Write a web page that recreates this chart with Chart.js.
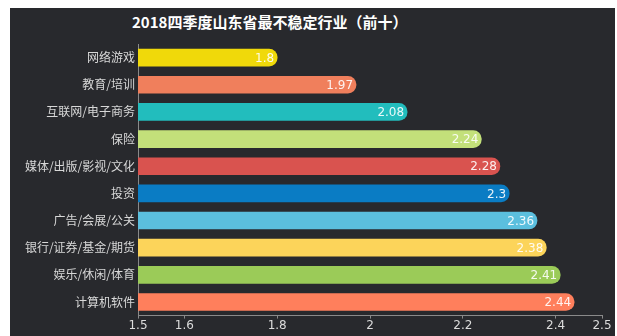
<!DOCTYPE html>
<html>
<head>
<meta charset="utf-8">
<script src="https://cdn.jsdelivr.net/npm/chart.js@4.4.0/dist/chart.umd.min.js"></script>
<style>
  body { margin: 0; background: #fff; }
  #panel { position: absolute; left: 10px; top: 8px; width: 605px; height: 328px; background: #28292d; }
  #title { position: absolute; left: 122px; top: 3px; color: #fff; font: bold 15px "Noto Sans CJK SC", sans-serif; white-space: nowrap; }
  #wrap { position: absolute; left: 0; top: 0; width: 605px; height: 328px; }
</style>
</head>
<body>
<div id="panel">
  <div id="title">2018四季度山东省最不稳定行业（前十）</div>
  <div id="wrap"><canvas id="chart"></canvas></div>
</div>
<script>
const industries = ['网络游戏', '教育/培训', '互联网/电子商务', '保险', '媒体/出版/影视/文化',
                    '投资', '广告/会展/公关', '银行/证券/基金/期货', '娱乐/休闲/体育', '计算机软件'];
const scores = [1.8, 1.97, 2.08, 2.24, 2.28, 2.3, 2.36, 2.38, 2.41, 2.44];
const barColors = ['#f0d90a', '#f07f5c', '#22bdbd', '#c3e07a', '#d9534f',
                   '#0a7cc4', '#5bbfde', '#fcd45a', '#9bcb58', '#ff7f5c'];
const xTicks = [1.5, 1.6, 1.8, 2, 2.2, 2.4, 2.5];

// value text at the end of each bar
const valueLabels = {
    id: 'valueLabels',
    afterDatasetsDraw(chart) {
        const ctx = chart.ctx;
        const meta = chart.getDatasetMeta(0);
        ctx.save();
        ctx.font = '12px "DejaVu Sans", sans-serif';
        ctx.fillStyle = 'rgba(255,255,255,0.9)';
        ctx.textAlign = 'right';
        ctx.textBaseline = 'middle';
        meta.data.forEach((bar, i) => {
            ctx.fillText(String(scores[i]), bar.x - 3, bar.y + 1);
        });
        ctx.restore();
    }
};

new Chart(document.getElementById('chart'), {
    type: 'bar',
    data: {
        labels: industries,
        datasets: [{
            data: scores,
            backgroundColor: barColors,
            borderRadius: 9,
            borderSkipped: false,
            barThickness: 17
        }]
    },
    plugins: [valueLabels],
    options: {
        indexAxis: 'y',
        responsive: true,
        maintainAspectRatio: false,
        animation: false,
        layout: { padding: { top: 36, right: 13, bottom: 3, left: 0 } },
        plugins: {
            legend: { display: false },
            tooltip: { enabled: false }
        },
        scales: {
            x: {
                min: 1.5,
                max: 2.5,
                afterBuildTicks: axis => { axis.ticks = xTicks.map(v => ({ value: v })); },
                grid: { drawOnChartArea: false, drawTicks: true, tickLength: 3, color: '#8a8a8a' },
                border: { color: '#8a8a8a' },
                ticks: {
                    color: '#dcdcdc',
                    font: { size: 12, family: '"DejaVu Sans", sans-serif' },
                    padding: 0,
                    maxRotation: 0,
                    autoSkip: false,
                    callback: v => String(v)
                }
            },
            y: {
                afterFit: axis => { axis.width = 128; },
                grid: { display: false, drawTicks: false },
                border: { color: '#8a8a8a' },
                ticks: {
                    color: '#d8d8d8',
                    font: { size: 12, family: '"Noto Sans CJK SC", sans-serif' },
                    padding: 3
                }
            }
        }
    }
});
</script>
</body>
</html>
